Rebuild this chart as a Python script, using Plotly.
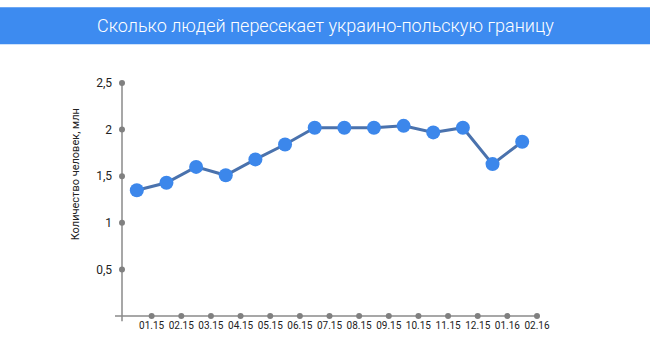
import plotly.graph_objects as go

title_text = "Сколько людей пересекает украино-польскую границу"
y_title = "Количество человек, млн"
months = ["01.15", "02.15", "03.15", "04.15", "05.15", "06.15", "07.15",
          "08.15", "09.15", "10.15", "11.15", "12.15", "01.16", "02.16"]
values = [1.35, 1.43, 1.60, 1.51, 1.68, 1.84, 2.02, 2.02, 2.02, 2.04, 1.97, 2.02, 1.63, 1.87]
y_ticks = [0.5, 1, 1.5, 2, 2.5]
y_tick_labels = ["0,5", "1", "1,5", "2", "2,5"]

FONT = "Roboto, sans-serif"
n = len(months)
x_points = [i + 0.5 for i in range(n)]
x_ticks = [i + 1 for i in range(n)]

fig = go.Figure()
# axis dots
fig.add_trace(go.Scatter(x=[0] * len(y_ticks), y=y_ticks, mode="markers",
                         marker=dict(size=6, color="#808080"), cliponaxis=False,
                         hoverinfo="skip", showlegend=False))
fig.add_trace(go.Scatter(x=x_ticks, y=[0] * n, mode="markers",
                         marker=dict(size=6, color="#808080"), cliponaxis=False,
                         hoverinfo="skip", showlegend=False))
# data
fig.add_trace(go.Scatter(x=x_points, y=values, mode="lines+markers",
                         line=dict(color="#4a72ad", width=3),
                         marker=dict(size=14, color="#3c87eb"),
                         cliponaxis=False, showlegend=False))

L, R, T, B = 122, 113, 82.7, 42.3
pw, ph = 650 - L - R, 358 - T - B

def px_x(p):
    return (p - L) / pw

def px_y(p):
    return (358 - B - p) / ph

shapes = [
    dict(type="rect", xref="paper", yref="paper", x0=px_x(0), x1=px_x(650),
         y0=px_y(44), y1=px_y(7), fillcolor="#3d8bf0", line=dict(width=0), layer="below"),
    dict(type="line", xref="paper", yref="paper", x0=px_x(115), x1=1, y0=0, y1=0,
         line=dict(color="#8a8a8a", width=1.5), layer="below"),
    dict(type="line", xref="paper", yref="paper", x0=0, x1=0, y0=px_y(321), y1=1,
         line=dict(color="#8a8a8a", width=1.5), layer="below"),
]

annotations = [
    dict(text=title_text, xref="paper", yref="paper", x=px_x(325), y=px_y(25.5),
         xanchor="center", yanchor="middle", showarrow=False,
         font=dict(family=FONT, size=18, color="white", weight=300)),
    dict(text=y_title, xref="paper", yref="paper", x=px_x(75), y=px_y(174),
         xanchor="center", yanchor="middle", showarrow=False, textangle=-90,
         font=dict(family=FONT, size=11, color="#222")),
]

fig.update_layout(
    width=650, height=358,
    margin=dict(l=L, r=R, t=T, b=B),
    paper_bgcolor="white", plot_bgcolor="white",
    font=dict(family=FONT, size=11, color="#222"),
    shapes=shapes, annotations=annotations,
    xaxis=dict(range=[0, n], tickvals=x_ticks, ticktext=months, showgrid=False,
               zeroline=False, showline=False, ticks="", fixedrange=True,
               tickangle=0, automargin=False, ticklabelstandoff=2,
               tickfont=dict(size=10)),
    yaxis=dict(range=[0, 2.5], tickvals=y_ticks, ticktext=y_tick_labels, showgrid=False,
               zeroline=False, showline=False, ticks="", ticklabelstandoff=9,
               automargin=False, fixedrange=True, tickfont=dict(size=12)),
)

fig.write_html("out.html", config={"displayModeBar": False},
               post_script="document.body.style.margin='0';document.body.style.padding='0';document.body.style.overflow='hidden';")
